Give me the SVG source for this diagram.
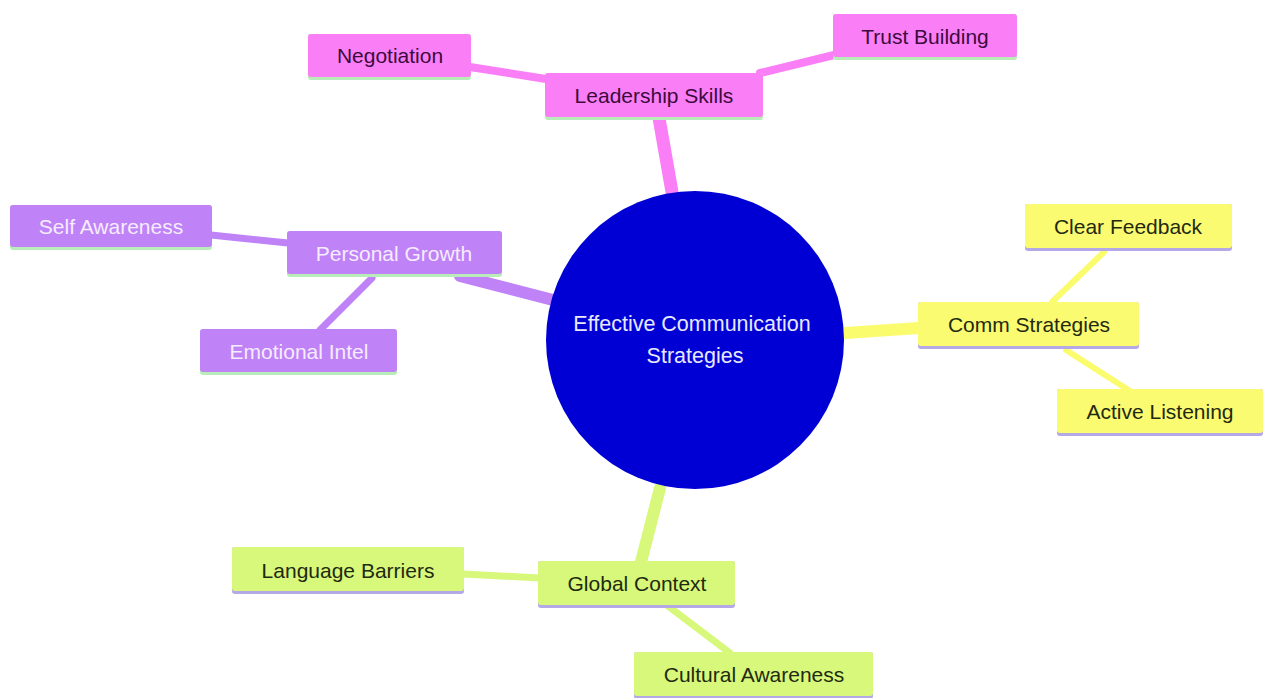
<svg xmlns="http://www.w3.org/2000/svg" width="1264" height="698" viewBox="0 0 1264 698">
<style>
text{font-family:"Liberation Sans",Arial,sans-serif;font-size:21px;text-anchor:middle;dominant-baseline:central}
.c{font-size:21.5px;fill:#e8e8ff}
.e{fill:none;stroke-linecap:round}
.pk{stroke:#fa7ff7}.pu{stroke:#c082f7}.ye{stroke:#fbfb6e}.gr{stroke:#d7f87a}
.n-pk rect.b{fill:#fa7ff7}.n-pu rect.b{fill:#c082f7}.n-ye rect.b{fill:#fbfb72}.n-gr rect.b{fill:#d7f87a}
.n-pk text{fill:#3d0a3d}.n-pu text{fill:#f5ecff}.n-ye text,.n-gr text{fill:#1f2a10}
.n-pk rect.u,.n-pu rect.u{fill:#b8ecb8}.n-ye rect.u,.n-gr rect.u{fill:#b4a8e6}
</style>
<rect width="1264" height="698" fill="#ffffff"/>
<g id="connectors">
<line class="e pk" x1="672" y1="192" x2="659" y2="118" stroke-width="13"/>
<line class="e pk" x1="546" y1="79" x2="470" y2="67" stroke-width="8"/>
<line class="e pk" x1="760" y1="73" x2="834" y2="55" stroke-width="8"/>
<line class="e pu" x1="553" y1="300" x2="460" y2="276" stroke-width="12"/>
<line class="e pu" x1="288" y1="243" x2="211" y2="235" stroke-width="7"/>
<line class="e pu" x1="372" y1="278" x2="320" y2="330" stroke-width="7"/>
<line class="e ye" x1="845" y1="333" x2="919" y2="328" stroke-width="12"/>
<line class="e ye" x1="1052" y1="302" x2="1104" y2="252" stroke-width="6"/>
<line class="e ye" x1="1066" y1="350" x2="1130" y2="391" stroke-width="6"/>
<line class="e gr" x1="660" y1="488" x2="641" y2="562" stroke-width="12"/>
<line class="e gr" x1="539" y1="578" x2="463" y2="574" stroke-width="7"/>
<line class="e gr" x1="668" y1="606" x2="730" y2="653" stroke-width="7"/>
</g>
<g id="root">
<circle cx="695" cy="340" r="149" fill="#0000d4"/>
<text class="c" x="692" y="324">Effective Communication</text>
<text class="c" x="695" y="356">Strategies</text>
</g>
<g id="leadership" class="n-pk"><rect class="u" x="545" y="73" width="218" height="47" rx="3"/><rect class="b" x="545" y="73" width="218" height="44" rx="3"/><text x="654" y="95">Leadership Skills</text></g>
<g id="negotiation" class="n-pk"><rect class="u" x="308" y="34" width="163" height="46" rx="3"/><rect class="b" x="308" y="34" width="163" height="43" rx="3"/><text x="390" y="55">Negotiation</text></g>
<g id="trust" class="n-pk"><rect class="u" x="833" y="14" width="184" height="46" rx="3"/><rect class="b" x="833" y="14" width="184" height="43" rx="3"/><text x="925" y="36">Trust Building</text></g>
<g id="personal" class="n-pu"><rect class="u" x="287" y="231" width="215" height="46" rx="3"/><rect class="b" x="287" y="231" width="215" height="43" rx="3"/><text x="394" y="253">Personal Growth</text></g>
<g id="selfaware" class="n-pu"><rect class="u" x="10" y="205" width="202" height="45" rx="3"/><rect class="b" x="10" y="205" width="202" height="42" rx="3"/><text x="111" y="226">Self Awareness</text></g>
<g id="emotional" class="n-pu"><rect class="u" x="200" y="329" width="197" height="46" rx="3"/><rect class="b" x="200" y="329" width="197" height="43" rx="3"/><text x="299" y="351">Emotional Intel</text></g>
<g id="comm" class="n-ye"><rect class="u" x="918" y="302" width="221" height="47" rx="3"/><rect class="b" x="918" y="302" width="221" height="44" rx="3"/><text x="1029" y="324">Comm Strategies</text></g>
<g id="clear" class="n-ye"><rect class="u" x="1025" y="204" width="207" height="47" rx="3"/><rect class="b" x="1025" y="204" width="207" height="44" rx="3"/><text x="1128" y="226">Clear Feedback</text></g>
<g id="active" class="n-ye"><rect class="u" x="1057" y="389" width="206" height="47" rx="3"/><rect class="b" x="1057" y="389" width="206" height="44" rx="3"/><text x="1160" y="411">Active Listening</text></g>
<g id="global" class="n-gr"><rect class="u" x="538" y="561" width="197" height="47" rx="3"/><rect class="b" x="538" y="561" width="197" height="44" rx="3"/><text x="637" y="583">Global Context</text></g>
<g id="language" class="n-gr"><rect class="u" x="232" y="547" width="232" height="47" rx="3"/><rect class="b" x="232" y="547" width="232" height="44" rx="3"/><text x="348" y="570">Language Barriers</text></g>
<g id="cultural" class="n-gr"><rect class="u" x="634" y="652" width="239" height="47" rx="3"/><rect class="b" x="634" y="652" width="239" height="44" rx="3"/><text x="754" y="674">Cultural Awareness</text></g>
</svg>
